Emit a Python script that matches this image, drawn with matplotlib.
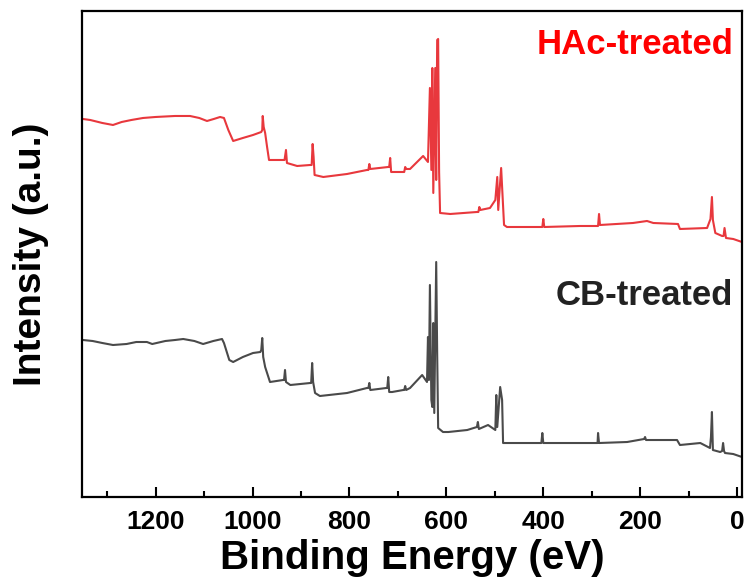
import matplotlib
matplotlib.use("Agg")
import matplotlib.pyplot as plt
from matplotlib.ticker import MultipleLocator

# XPS survey spectra, binding energy (eV) vs intensity (a.u.)
hac_energy = [1350, 1335, 1310, 1288, 1270, 1250, 1226, 1200, 1160, 1129, 1110, 1094, 1080, 1067,
              1059, 1050, 1040, 1020, 999, 982, 980, 979, 977, 974, 970, 966,
              937, 934, 931, 929, 908, 881, 878, 876, 874, 872, 854, 805, 764, 761, 759, 757,
              720, 718, 716, 714, 689, 687, 685, 683, 675, 648, 638, 634, 631, 629, 627,
              623, 621, 619, 617, 615, 613, 592,
              537, 534, 532, 530, 510, 499, 495, 493, 487, 485, 481, 475, 407, 402, 400, 398,
              324, 287, 285, 283, 215, 186, 173, 122, 118, 62, 55, 52, 50, 45, 31, 28, 26,
              23, 8, -10]
hac_intensity = [378, 377, 374, 372, 375, 377, 379, 380, 381, 381, 379, 376, 378, 380,
                 379, 367, 356, 359, 362, 365, 367, 381, 370, 364, 350, 337,
                 337, 337, 347, 334, 331, 332, 332, 353, 340, 322, 320, 323, 327, 327, 333, 328,
                 330, 330, 339, 325, 325, 325, 330, 328, 328, 341, 335, 409, 327, 429, 304,
                 429, 317, 457, 458, 325, 284, 283,
                 285, 285, 290, 287, 289, 297, 320, 287, 329, 310, 272, 270, 270, 270, 278, 270,
                 271, 271, 283, 272, 274, 276, 274, 273, 268, 269, 278, 300, 277, 264, 261, 261, 269,
                 259, 258, 255]

cb_energy = [1350, 1330, 1310, 1288, 1260, 1240, 1218, 1207, 1180, 1160, 1143, 1120, 1102, 1081,
             1063, 1059, 1048, 1040, 1020, 999, 984, 982, 980, 978, 974, 964,
             937, 935, 933, 931, 922, 881, 879, 877, 875, 871, 861, 805, 764, 761, 759, 757,
             724, 722, 720, 718, 712, 689, 687, 685, 683, 675, 650, 640, 638, 636, 634, 631,
             629, 627, 625, 621, 619, 617, 607, 596,
             557, 537, 535, 533, 514, 499, 497, 495, 489, 485, 483, 421, 404, 402, 400,
             289, 288, 287, 285, 227, 192, 190, 188, 124, 118, 76, 56, 54, 52, 50, 35, 31,
             29, 27, 25, 8, -10]
cb_intensity = [157, 156, 154, 152, 153, 155, 155, 153, 156, 157, 158, 156, 153, 156,
                158, 154, 137, 135, 140, 144, 145, 147, 159, 140, 130, 115,
                117, 117, 127, 115, 112, 114, 114, 134, 115, 104, 101, 104, 109, 109, 114, 107,
                109, 109, 120, 105, 105, 107, 107, 111, 107, 109, 122, 115, 160, 117, 212, 97,
                90, 174, 84, 235, 144, 69, 65, 65,
                67, 70, 75, 68, 72, 67, 102, 70, 110, 97, 54, 54, 54, 64, 54,
                54, 54, 64, 54, 55, 58, 60, 57, 57, 52, 54, 49, 60, 85, 47, 45, 46,
                54, 46, 44, 43, 40]

fig, ax = plt.subplots(figsize=(7.5, 5.87), dpi=100)
fig.subplots_adjust(left=0.1093, right=0.9893, bottom=0.1533, top=0.9813)

ax.plot(hac_energy, hac_intensity, color='#e8383d', linewidth=1.5)
ax.plot(cb_energy, cb_intensity, color='#4a4a4a', linewidth=1.5)

ax.set_xlim(1352, -10)
ax.set_ylim(0, 486)

ax.xaxis.set_major_locator(MultipleLocator(200))
ax.xaxis.set_minor_locator(MultipleLocator(100))
ax.set_yticks([])
ax.tick_params(axis='x', which='major', direction='in', length=7, width=1.5, pad=9)
ax.tick_params(axis='x', which='minor', direction='in', length=4, width=1.5)
for spine in ax.spines.values():
    spine.set_linewidth(1.6)

font = ['Liberation Sans', 'DejaVu Sans']
for lbl in ax.get_xticklabels():
    lbl.set_family(font)
    lbl.set_fontweight('bold')
    lbl.set_fontsize(19)

ax.set_xlabel('Binding Energy (eV)', family=font, fontweight='bold', fontsize=29, labelpad=4)
ax.set_ylabel('Intensity (a.u.)', family=font, fontweight='bold', fontsize=28, labelpad=24)

ax.text(8, 452, 'HAc-treated', color='#ff0000', family=font, fontweight='bold',
        fontsize=25, ha='right', va='center')
ax.text(8, 201, 'CB-treated', color='#222222', family=font, fontweight='bold',
        fontsize=25, ha='right', va='center')

plt.savefig('out.png', dpi=100)
